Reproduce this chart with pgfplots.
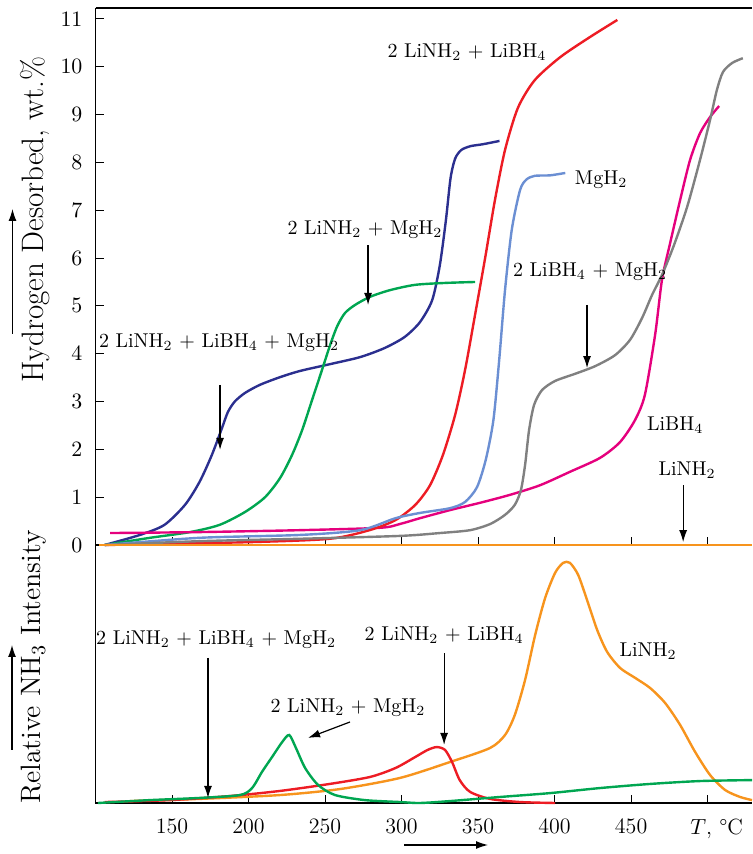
\documentclass[border=0pt]{standalone}
\usepackage{pgfplots}
\pgfplotsset{compat=1.18}
\usetikzlibrary{arrows.meta}
\definecolor{cnavy}{RGB}{43,47,143}
\definecolor{cgreen}{RGB}{0,166,81}
\definecolor{cred}{RGB}{237,28,36}
\definecolor{cblue}{RGB}{107,143,211}
\definecolor{cpink}{RGB}{229,0,125}
\definecolor{cgray}{RGB}{128,128,128}
\definecolor{corange}{RGB}{247,148,29}
\tikzset{
  ann/.style={font=\fontsize{10}{12}\selectfont},
  arr/.style={-{Latex[length=6pt,width=4pt]}, line width=0.6pt},
  curve/.style={line width=1.2pt, smooth, tension=0.45},
}
\pgfplotsset{
  myaxis/.style={
    scale only axis, anchor=south west, width=328.25pt,
    xmin=100, xmax=529, axis lines=left,
    axis line style={-, line width=0.6pt},
    tick align=inside, major tick length=4pt,
    tick style={line width=0.5pt, black},
    xtick={150,200,...,500}, clip=false,
    ticklabel style={font=\fontsize{11}{13}\selectfont},
  },
}
\begin{document}
\begin{tikzpicture}
% ---------------- bottom panel ----------------
\begin{axis}[myaxis, at={(0,0)}, height=129pt, ymin=0, ymax=107, ytick=\empty,
  xticklabels={150,200,250,300,350,400,450,{\hspace*{9pt}$T$, \textdegree C}},
  xticklabel style={yshift=-4.5pt}]
\addplot[curve, corange] coordinates {
(122.5,0.8) (168,1.7) (220.6,3.3) (260,5.8) (299,10.4) (331.7,17) (357.8,22.8)
(367.6,28.2) (374,36.5) (380.7,51) (387.3,69.7) (393.8,85) (400.3,95.4)
(405.6,99.6) (410,99.6) (415.4,94.6) (421.2,84.2) (427.8,71.8) (434.3,62.7)
(442.8,56) (452.6,51.9) (462.4,47.7) (472.2,41.5) (482,32.4) (491.8,21.2)
(501.6,11.6) (511.4,5.4) (521.2,2.5) (529,1.2)};
\addplot[curve, cred] coordinates {
(106,0.4) (148.7,1.2) (188,2.9) (220.6,5) (253,7.9) (279.4,10.8) (296,14.5)
(309,19.1) (317,22) (323,23.2) (328.4,22) (333,17) (338,9.5) (344.8,4.6)
(357.8,1.7) (377.4,0.4) (400.3,0)};
\addplot[curve, cgreen] coordinates {
(101.6,0) (135.6,1.2) (168,2.1) (194.4,3.3) (202.3,6.2) (208.8,12.9) (215.4,19.1)
(222,25.3) (226.6,28.2) (231,22.8) (237,14.5) (245.4,7.5) (256.5,3.3) (276,1.2)
(299,0.4) (312,0) (331.7,0.8) (364.4,2.5) (397,4.1) (429.7,6.2) (462.4,7.9)
(495,9.1) (529,9.5)};
\node[ann] at (axis cs:178.8,67.6) {2 LiNH$_2$ + LiBH$_4$ + MgH$_2$};
\draw[arr] (axis cs:173.5,60.2) -- (axis cs:173.5,2.1);
\node[ann] at (axis cs:327.8,69.7) {2 LiNH$_2$ + LiBH$_4$};
\draw[arr] (axis cs:327.8,62.2) -- (axis cs:327.8,24.1);
\node[ann] at (axis cs:265,39.4) {2 LiNH$_2$ + MgH$_2$};
\draw[arr] (axis cs:266.3,33.6) -- (axis cs:238.9,27);
\node[ann] at (axis cs:461.1,63.1) {LiNH$_2$};
\end{axis}
% ---------------- top panel ----------------
\begin{axis}[myaxis, at={(0,129pt)}, height=268.5pt, ymin=0, ymax=11.23,
  ytick={0,1,...,11}, xticklabels={}, yticklabel style={xshift=-3pt}]
\draw[line width=0.6pt] (rel axis cs:0,1) -- (rel axis cs:1,1);
\addplot[curve, cnavy] coordinates {
(106,0) (129,0.21) (145,0.42) (158.5,0.84) (168,1.32) (176,1.88) (182.7,2.45)
(186.5,2.78) (191,3.0) (197.7,3.18) (207.5,3.35) (220.6,3.51) (233.7,3.64) (253,3.78)
(273,3.93) (289,4.12) (302,4.35) (312,4.66) (320,5.12) (325,5.85) (329,6.8)
(332,7.67) (335,8.08) (339,8.26) (345,8.34) (353,8.38) (364,8.45)};
\addplot[curve, cgreen] coordinates {
(106,0) (135.6,0.15) (161.8,0.27) (181,0.42) (197.7,0.69) (210.8,1.0) (220.6,1.4)
(228.4,1.88) (235,2.4) (241.5,3.03) (248,3.66) (253.5,4.2) (258,4.58) (263,4.85)
(269.6,5.02) (279.4,5.19) (292.5,5.33) (308.8,5.44) (328.4,5.48) (348,5.5)};
\addplot[curve, cpink] coordinates {
(109.5,0.25) (168,0.27) (233.7,0.31) (286,0.36) (299,0.44) (312,0.56) (331.7,0.73)
(351,0.88) (371,1.05) (390.5,1.25) (410,1.53) (429.6,1.82) (442.7,2.15)
(452.5,2.61) (459,3.14) (465.7,4.4) (470.2,5.55) (475.4,6.3) (482,7.21)
(488.5,8.05) (495,8.61) (501.6,8.95) (507.5,9.18)};
\addplot[curve, cred] coordinates {
(106,0) (201,0.06) (253,0.13) (279,0.31) (296,0.52) (309,0.84) (318.6,1.25)
(327,1.88) (335,2.72) (341.5,3.66) (348,4.81) (354.6,6.0) (361,7.21) (367.6,8.26)
(376,9.14) (387,9.72) (403.6,10.2) (423,10.62) (441,10.98)};
\addplot[curve, cblue] coordinates {
(106,0) (168,0.15) (233.7,0.21) (273,0.31) (296,0.56) (312,0.67) (331.7,0.77)
(341.5,0.9) (349.3,1.21) (355,1.78) (360,2.61) (363.8,3.87) (367.6,5.33)
(372,6.59) (377.4,7.42) (381.5,7.64) (387,7.72) (397,7.73) (407,7.78)};
\addplot[curve, cgray] coordinates {
(106,0) (168,0.08) (233.7,0.13) (299,0.19) (325,0.25) (344.8,0.31) (358,0.44)
(367.6,0.63) (374,0.84) (378,1.15) (380.7,1.67) (383.3,2.4) (386.6,2.93)
(391.8,3.24) (400.3,3.43) (413.4,3.58) (426.5,3.74) (439.5,3.97) (449.3,4.29)
(457.2,4.75) (463.7,5.23) (470.2,5.65) (478,6.27) (486.6,7.07) (495,8.05)
(501.6,8.89) (506,9.51) (510,9.89) (516,10.08) (523,10.18)};
\addplot[curve, corange] coordinates {(102,0) (529,0)};
\node[ann] at (axis cs:342.7,10.31) {2 LiNH$_2$ + LiBH$_4$};
\node[ann] at (axis cs:430.4,7.63) {MgH$_2$};
\node[ann] at (axis cs:276.1,6.59) {2 LiNH$_2$ + MgH$_2$};
\draw[arr] (axis cs:278.1,6.27) -- (axis cs:278.1,5.02);
\node[ann] at (axis cs:423.2,5.71) {2 LiBH$_4$ + MgH$_2$};
\draw[arr] (axis cs:421.2,5.02) -- (axis cs:421.2,3.70);
\node[ann] at (axis cs:180.7,4.24) {2 LiNH$_2$ + LiBH$_4$ + MgH$_2$};
\draw[arr] (axis cs:181.4,3.35) -- (axis cs:181.4,1.99);
\node[ann] at (axis cs:478.8,2.51) {LiBH$_4$};
\node[ann] at (axis cs:486.6,1.57) {LiNH$_2$};
\draw[arr] (axis cs:484,1.25) -- (axis cs:484,0.06);
\end{axis}
% ---------------- labels and arrows ----------------
\node[rotate=90, font=\fontsize{15.5}{17}\selectfont] at (-30.25pt,291.5pt) {Hydrogen Desorbed, wt.\%};
\draw[arr] (-41.5pt,234.5pt) -- (-41.5pt,297pt);
\node[rotate=90, font=\fontsize{14}{16}\selectfont] at (-30.75pt,68pt) {Relative NH$_3$ Intensity};
\draw[arr] (-41.75pt,26.5pt) -- (-41.75pt,79pt);
\draw[arr] (154.25pt,-21pt) -- (196.25pt,-21pt);
\pgfresetboundingbox
\path (-47.75pt,-25.5pt) rectangle (328.25pt,401.5pt);
\end{tikzpicture}
\end{document}
